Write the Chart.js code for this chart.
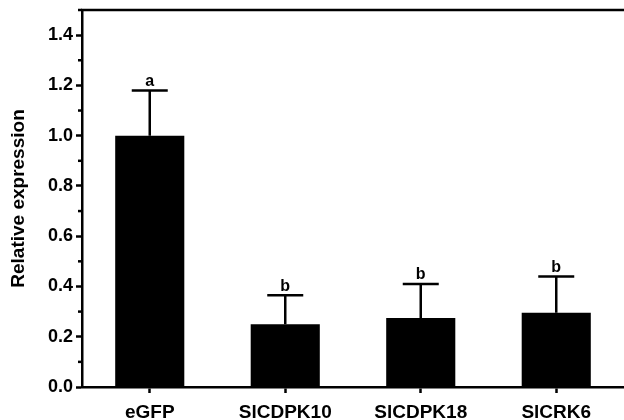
<!DOCTYPE html>
<html lang="en">
<head>
    <meta charset="UTF-8">
    <script src="https://cdn.jsdelivr.net/npm/chart.js"></script>
    <title>Relative expression</title>
    <style>
        body {
            margin: 0;
            background: #ffffff;
        }
        .chart-box {
            width: 624px;
            height: 420px;
            position: relative;
        }
    </style>
</head>
<body>
    <div class="chart-box">
        <canvas id="expressionChart"></canvas>
    </div>

    <script>
        // Data
        const genes = ['eGFP', 'SlCDPK10', 'SlCDPK18', 'SlCRK6'];
        const meanExpression = [1.0, 0.25, 0.275, 0.295];
        const errorUpper = [0.18, 0.115, 0.135, 0.145];
        const groupLetters = ['a', 'b', 'b', 'b'];

        const FONT = '"Liberation Sans", Arial, sans-serif';

        // Error bars (upper only), letters, minor ticks and the top frame line
        const extrasPlugin = {
            id: 'extras',
            afterDatasetsDraw(chart) {
                const ctx = chart.ctx;
                const x = chart.scales.x;
                const y = chart.scales.y;
                const area = chart.chartArea;

                ctx.save();
                ctx.strokeStyle = '#000';
                ctx.fillStyle = '#000';
                ctx.lineWidth = 2.5;

                // top frame line
                ctx.beginPath();
                ctx.moveTo(area.left - 1, area.top);
                ctx.lineTo(area.right, area.top);
                ctx.stroke();

                // minor ticks on y
                y.ticks.forEach(t => {
                    if (Math.round(t.value * 10) % 2 === 1) {
                        const py = y.getPixelForValue(t.value);
                        ctx.beginPath();
                        ctx.moveTo(area.left - 4, py);
                        ctx.lineTo(area.left, py);
                        ctx.stroke();
                    }
                });

                // error bars and letters
                ctx.font = 'bold 16px ' + FONT;
                ctx.textAlign = 'center';
                ctx.textBaseline = 'bottom';
                genes.forEach((g, i) => {
                    const cx = x.getPixelForValue(i);
                    const yMean = y.getPixelForValue(meanExpression[i]);
                    const yTop = y.getPixelForValue(meanExpression[i] + errorUpper[i]);
                    ctx.beginPath();
                    ctx.moveTo(cx, yMean);
                    ctx.lineTo(cx, yTop);
                    ctx.moveTo(cx - 18, yTop);
                    ctx.lineTo(cx + 18, yTop);
                    ctx.stroke();
                    ctx.fillText(groupLetters[i], cx, yTop - 1);
                });
                ctx.restore();
            }
        };

        const chart = new Chart(document.getElementById('expressionChart'), {
            type: 'bar',
            data: {
                labels: genes,
                datasets: [{
                    data: meanExpression,
                    backgroundColor: '#000',
                    borderWidth: 0,
                    categoryPercentage: 1.0,
                    barPercentage: 0.51
                }]
            },
            options: {
                responsive: true,
                maintainAspectRatio: false,
                animation: false,
                layout: { padding: { top: 10, right: 0, left: 0, bottom: 0 } },
                plugins: {
                    legend: { display: false },
                    tooltip: { enabled: false }
                },
                scales: {
                    x: {
                        grid: {
                            offset: false,
                            drawOnChartArea: false,
                            tickLength: 6,
                            tickWidth: 2.5,
                            tickColor: '#000'
                        },
                        border: { color: '#000', width: 2.5 },
                        ticks: {
                            color: '#000',
                            padding: 8,
                            maxRotation: 0,
                            font: { family: FONT, size: 19, weight: 'bold' }
                        },
                        afterFit(scale) {
                            scale.height = 33;
                            scale.paddingLeft = 0;
                            scale.paddingRight = 0;
                        }
                    },
                    y: {
                        min: 0,
                        max: 1.5,
                        grid: {
                            drawOnChartArea: false,
                            tickLength: 6,
                            tickWidth: 2.5,
                            tickColor: ctx => (Math.round(ctx.tick.value * 10) % 2 === 0 ? '#000' : 'rgba(0,0,0,0)')
                        },
                        border: { color: '#000', width: 2.5 },
                        ticks: {
                            stepSize: 0.1,
                            autoSkip: false,
                            color: '#000',
                            padding: 3,
                            font: { family: FONT, size: 18, weight: 'bold' },
                            callback: v => (Math.round(v * 10) % 2 === 0 && v < 1.45 ? v.toFixed(1) : '')
                        },
                        title: {
                            display: true,
                            text: 'Relative expression',
                            color: '#000',
                            padding: { top: 7, bottom: 0 },
                            font: { family: FONT, size: 19, weight: 'bold' }
                        },
                        afterFit(scale) {
                            scale.width = 82;
                            scale.paddingTop = 0;
                            scale.paddingBottom = 0;
                        }
                    }
                }
            },
            plugins: [extrasPlugin]
        });
    </script>
</body>
</html>
